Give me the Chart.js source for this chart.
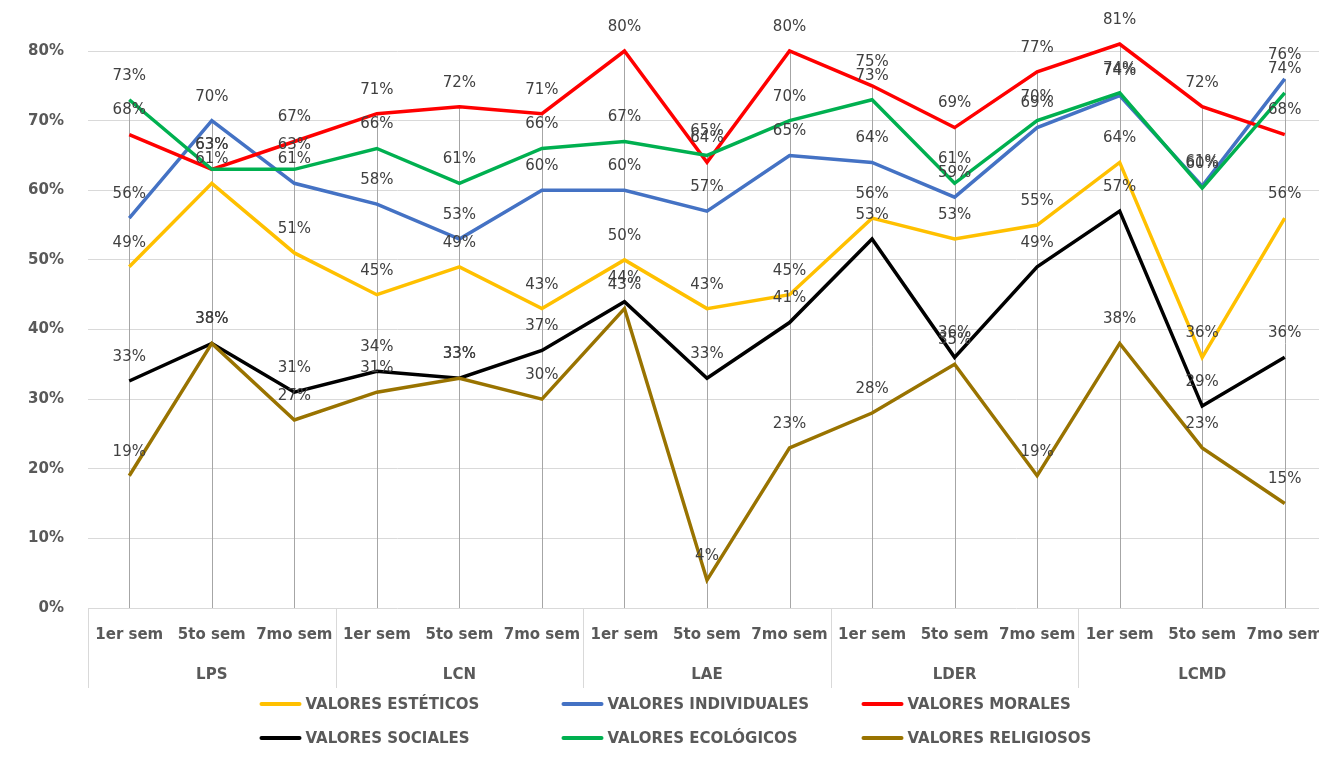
<!DOCTYPE html>
<html>
<head>
<meta charset="utf-8">
<script src="https://cdn.jsdelivr.net/npm/chart.js@4.4.1/dist/chart.umd.min.js"></script>
<style>
  html, body { margin: 0; padding: 0; background: #ffffff; overflow: hidden; }
  #c { display: block; width: 1326px; height: 762px; }
</style>
</head>
<body>
<canvas id="c" width="1326" height="762"></canvas>
<script>
// ---- data ----
const semesters = ['1er sem','5to sem','7mo sem','1er sem','5to sem','7mo sem','1er sem','5to sem','7mo sem','1er sem','5to sem','7mo sem','1er sem','5to sem','7mo sem'];
const programs = ['LPS','LCN','LAE','LDER','LCMD'];
const seriesNames = ['VALORES ESTÉTICOS','VALORES INDIVIDUALES','VALORES MORALES','VALORES SOCIALES','VALORES ECOLÓGICOS','VALORES RELIGIOSOS'];
const esteticos    = [49,61,51,45,49,43,50,43,45,56,53,55,64,36,56];
const individuales = [56,70,61,58,53,60,60,57,65,64,59,69,73.6,60.6,76];
const morales      = [68,63,67,71,72,71,80,64,80,75,69,77,81,72,68];
const sociales     = [32.6,38,31,34,33,37,44,33,41,53,36,49,57,29,36];
const ecologicos   = [73,63,63,66,61,66,67,65,70,73,61,70,74,60.3,74];
const religiosos   = [19,38,27,31,33,30,43,4,23,28,35,19,38,23,15];
const yTicks = [0,10,20,30,40,50,60,70,80];

const seriesValues = [esteticos, individuales, morales, sociales, ecologicos, religiosos];
const seriesColors = ['#FFC000','#4472C4','#FF0000','#000000','#00B050','#997300'];

const AXIS_FONT = 'bold 15px "DejaVu Sans"';

// drop lines from highest point to the axis
const dropLines = {
  id: 'dropLines',
  beforeDatasetsDraw(chart) {
    const {ctx, scales: {x, y}} = chart;
    ctx.save();
    ctx.strokeStyle = '#A6A6A6';
    ctx.lineWidth = 1;
    for (let i = 0; i < semesters.length; i++) {
      const mx = Math.max(...seriesValues.map(s => s[i]));
      const px = Math.round(x.getPixelForValue(i)) + 0.5;
      ctx.beginPath();
      ctx.moveTo(px, y.getPixelForValue(mx));
      ctx.lineTo(px, y.getPixelForValue(0));
      ctx.stroke();
    }
    ctx.restore();
  }
};

// data labels
const dataLabels = {
  id: 'dataLabels',
  afterDatasetsDraw(chart) {
    const ctx = chart.ctx;
    ctx.save();
    ctx.font = '15px "DejaVu Sans"';
    ctx.fillStyle = '#404040';
    ctx.textAlign = 'center';
    ctx.textBaseline = 'middle';
    chart.data.datasets.forEach((ds, di) => {
      const meta = chart.getDatasetMeta(di);
      meta.data.forEach((pt, i) => {
        ctx.fillText(Math.round(ds.data[i]) + '%', pt.x, pt.y - 24);
      });
    });
    ctx.restore();
  }
};

// group separators below the axis
const groupSeparators = {
  id: 'groupSeparators',
  afterDraw(chart) {
    const {ctx, chartArea, scales: {x}} = chart;
    ctx.save();
    ctx.strokeStyle = '#D9D9D9';
    ctx.lineWidth = 1;
    for (let g = 0; g <= programs.length; g++) {
      const px = Math.round(x.getPixelForValue(g * 3 - 0.5)) + 0.5;
      ctx.beginPath();
      ctx.moveTo(px, chartArea.bottom);
      ctx.lineTo(px, chartArea.bottom + 80);
      ctx.stroke();
    }
    ctx.restore();
  }
};

// legend in a 3-column grid
const gridLegend = {
  id: 'gridLegend',
  afterDraw(chart) {
    const ctx = chart.ctx;
    const cx = 659.5;
    const colX = [cx - 400, cx - 98, cx + 202];
    const rowY = [704, 738];
    ctx.save();
    ctx.font = AXIS_FONT;
    ctx.textBaseline = 'middle';
    ctx.textAlign = 'left';
    chart.data.datasets.forEach((ds, i) => {
      const x0 = colX[i % 3], yy = rowY[Math.floor(i / 3)];
      ctx.strokeStyle = ds.borderColor;
      ctx.lineWidth = 4;
      ctx.lineCap = 'round';
      ctx.beginPath();
      ctx.moveTo(x0 + 2, yy);
      ctx.lineTo(x0 + 40, yy);
      ctx.stroke();
      ctx.fillStyle = '#595959';
      ctx.fillText(ds.label, x0 + 46, yy + 1);
    });
    ctx.restore();
  }
};

const datasets = seriesNames.map((name, i) => ({
  label: name,
  data: seriesValues[i],
  borderColor: seriesColors[i],
  backgroundColor: seriesColors[i],
  borderWidth: 3.5,
  pointRadius: 0,
  pointHoverRadius: 0,
  tension: 0,
  fill: false,
  clip: false,
  order: seriesNames.length - i
}));

function fixH(h) {
  return axis => { axis.height = h; axis.paddingLeft = 0; axis.paddingRight = 0; };
}

new Chart(document.getElementById('c'), {
  type: 'line',
  data: { labels: semesters, datasets },
  plugins: [dropLines, dataLabels, groupSeparators, gridLegend],
  options: {
    responsive: false,
    maintainAspectRatio: false,
    devicePixelRatio: 1,
    animation: false,
    events: [],
    layout: { autoPadding: false, padding: { top: 51, left: 28, right: 0, bottom: 78 } },
    plugins: { legend: { display: false }, tooltip: { enabled: false } },
    scales: {
      x: {
        type: 'category',
        offset: true,
        grid: { display: false, drawTicks: false },
        border: { display: false },
        afterFit: fixH(36),
        ticks: {
          autoSkip: false, maxRotation: 0, minRotation: 0,
          padding: 18,
          font: { family: 'DejaVu Sans', size: 15, weight: 'bold' },
          color: '#595959'
        }
      },
      x2: {
        type: 'category',
        position: 'bottom',
        labels: programs,
        offset: true,
        grid: { display: false, drawTicks: false },
        border: { display: false },
        afterFit: fixH(40),
        ticks: {
          autoSkip: false, maxRotation: 0, minRotation: 0,
          padding: 22,
          font: { family: 'DejaVu Sans', size: 15, weight: 'bold' },
          color: '#595959'
        }
      },
      y: {
        min: 0,
        max: 80,
        afterBuildTicks(axis) { axis.ticks = yTicks.map(v => ({ value: v })); },
        afterFit(axis) { axis.width = 60; axis.paddingTop = 0; axis.paddingBottom = 0; },
        grid: { color: '#D9D9D9', lineWidth: 1, drawTicks: false },
        border: { display: false },
        ticks: {
          padding: 24,
          callback: v => v + '%',
          font: { family: 'DejaVu Sans', size: 15, weight: 'bold' },
          color: '#595959'
        }
      }
    }
  }
});
</script>
</body>
</html>
